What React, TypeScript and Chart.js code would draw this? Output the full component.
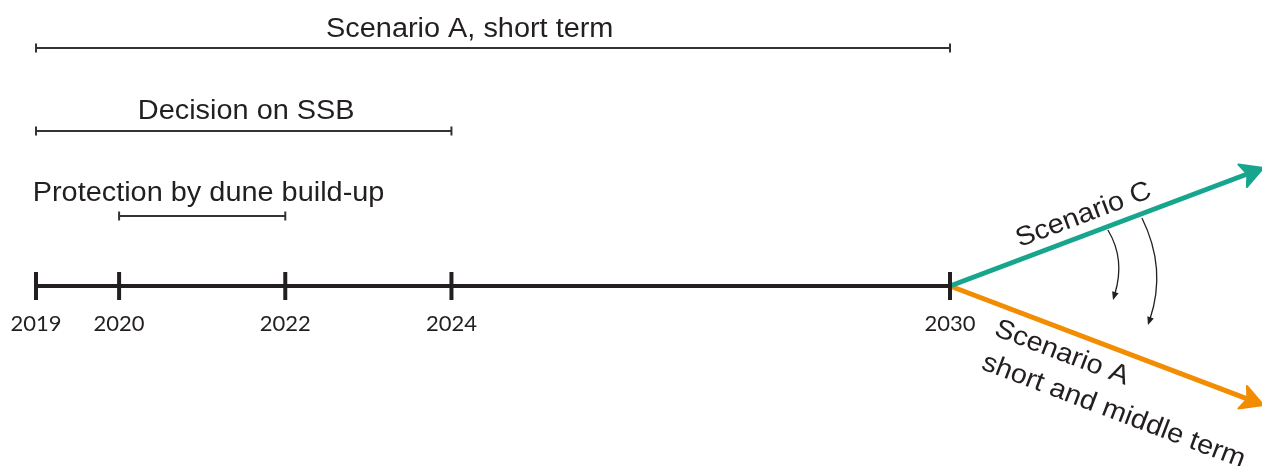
import { useEffect, useRef } from "react";
import { Chart, registerables } from "chart.js";

Chart.register(...registerables);

// ---------- data ----------
const timelineStart = 2019;
const timelineEnd = 2030;
const milestoneYears = [2019, 2020, 2022, 2024, 2030];
const tickLabels = ["2019", "2020", "2022", "2024", "2030"];

const spanNames = ["Scenario A, short term", "Decision on SSB", "Protection by dune build-up"];
const spanStarts = [2019, 2019, 2020];
const spanEnds = [2030, 2024, 2022];
const spanLevels = [238, 155, 70];
const spanLabelYears = [2024.22, 2021.53, 2018.96];
const spanLabelLevels = [249, 167, 85];
const spanLabelAlign = ["center", "center", "left"];

const scenarioNames = ["Scenario C", "Scenario A"];
const scenarioStartYear = 2030;
const scenarioEndYear = 2033.77;
const scenarioEndLevels = [118, -119];
const scenarioLabelLines = [["Scenario C"], ["Scenario A", "short and middle term"]];
const scenarioLabelYears = [2031.64, 2030.518];
const scenarioLabelLevels = [64, -49];
const scenarioLabelAlign = ["center", "left"];

// curved "shift" arrows: start, control, end (year, level)
const shiftStartYears = [2031.9, 2032.31];
const shiftStartLevels = [56, 68];
const shiftCtrlYears = [2032.112, 2032.611];
const shiftCtrlLevels = [27, 17.5];
const shiftEndYears = [2031.962, 2032.383];
const shiftEndLevels = [-14, -39];

// ---------- styles ----------
const DARK = "#231f20";
const TEAL = "#17a58e";
const ORANGE = "#f28c00";
const scenarioColors = [TEAL, ORANGE];
const LABEL_FONT = '27px "Liberation Sans", Arial, sans-serif';
const LABEL_STRETCH = 1.07;
const TICK_FONT = '22px Lato, "Open Sans", sans-serif';

const X_MIN = 2019 - 36 / (914 / 11);
const X_MAX = X_MIN + 1262 / (914 / 11);

function drawLabel(
  ctx: CanvasRenderingContext2D,
  text: string,
  x: number,
  y: number,
  align: CanvasTextAlign
) {
  ctx.save();
  ctx.translate(x, y);
  ctx.scale(LABEL_STRETCH, 1);
  ctx.textAlign = align;
  ctx.fillText(text, 0, 0);
  ctx.restore();
}

const overlayPlugin = {
  id: "timelineOverlay",
  afterDatasetsDraw(chart: any) {
    const ctx: CanvasRenderingContext2D = chart.ctx;
    const xs = chart.scales.x;
    const ys = chart.scales.y;
    const px = (v: number) => xs.getPixelForValue(v);
    const py = (v: number) => ys.getPixelForValue(v);
    ctx.save();

    // milestone ticks
    ctx.strokeStyle = DARK;
    ctx.lineWidth = 4;
    ctx.lineCap = "butt";
    const y0 = py(0);
    milestoneYears.forEach((yr) => {
      const x = px(yr);
      ctx.beginPath();
      ctx.moveTo(x, y0 - 14);
      ctx.lineTo(x, y0 + 14);
      ctx.stroke();
    });

    // tick labels
    ctx.fillStyle = DARK;
    ctx.font = TICK_FONT;
    ctx.textAlign = "center";
    ctx.textBaseline = "alphabetic";
    milestoneYears.forEach((yr, i) => {
      ctx.fillText(tickLabels[i], px(yr), y0 + 45);
    });

    // span end caps
    ctx.lineWidth = 2;
    ctx.strokeStyle = "#333";
    spanNames.forEach((_, i) => {
      const yy = py(spanLevels[i]);
      [spanStarts[i], spanEnds[i]].forEach((yr) => {
        const x = px(yr);
        ctx.beginPath();
        ctx.moveTo(x, yy - 4.5);
        ctx.lineTo(x, yy + 4.5);
        ctx.stroke();
      });
    });

    // span labels
    ctx.font = LABEL_FONT;
    ctx.fillStyle = DARK;
    spanNames.forEach((name, i) => {
      drawLabel(ctx, name, px(spanLabelYears[i]), py(spanLabelLevels[i]), spanLabelAlign[i] as CanvasTextAlign);
    });

    // scenario arrowheads + labels
    scenarioNames.forEach((_, i) => {
      const sx = px(scenarioStartYear);
      const sy = py(0);
      const ex = px(scenarioEndYear);
      const ey = py(scenarioEndLevels[i]);
      const a = Math.atan2(ey - sy, ex - sx);
      const c = Math.cos(a);
      const s = Math.sin(a);
      const L = 22;
      const W = 12;
      const N = 5;
      // solid, slightly notched head
      ctx.fillStyle = scenarioColors[i];
      ctx.strokeStyle = scenarioColors[i];
      ctx.lineWidth = 2;
      ctx.lineJoin = "round";
      ctx.beginPath();
      ctx.moveTo(ex, ey);
      ctx.lineTo(ex - L * c - W * s, ey - L * s + W * c);
      ctx.lineTo(ex - (L - N) * c, ey - (L - N) * s);
      ctx.lineTo(ex - L * c + W * s, ey - L * s - W * c);
      ctx.closePath();
      ctx.fill();
      ctx.stroke();

      ctx.save();
      ctx.translate(px(scenarioLabelYears[i]), py(scenarioLabelLevels[i]));
      ctx.rotate(a);
      ctx.fillStyle = DARK;
      ctx.font = LABEL_FONT;
      scenarioLabelLines[i].forEach((line, k) => {
        drawLabel(ctx, line, 0, k * 36, scenarioLabelAlign[i] as CanvasTextAlign);
      });
      ctx.restore();
    });

    // curved shift arrows
    ctx.strokeStyle = DARK;
    ctx.fillStyle = DARK;
    ctx.lineWidth = 1.3;
    shiftStartYears.forEach((_, i) => {
      const x0 = px(shiftStartYears[i]);
      const yA = py(shiftStartLevels[i]);
      const cx = px(shiftCtrlYears[i]);
      const cy = py(shiftCtrlLevels[i]);
      const x1 = px(shiftEndYears[i]);
      const y1 = py(shiftEndLevels[i]);
      const a = Math.atan2(y1 - cy, x1 - cx);
      const hl = 8;
      const bx = x1 - hl * Math.cos(a);
      const by = y1 - hl * Math.sin(a);
      ctx.beginPath();
      ctx.moveTo(x0, yA);
      ctx.quadraticCurveTo(cx, cy, bx + 2 * Math.cos(a), by + 2 * Math.sin(a));
      ctx.stroke();
      const w = 3.4;
      ctx.beginPath();
      ctx.moveTo(x1, y1);
      ctx.lineTo(bx - w * Math.sin(a), by + w * Math.cos(a));
      ctx.lineTo(bx + w * Math.sin(a), by - w * Math.cos(a));
      ctx.closePath();
      ctx.fill();
    });

    ctx.restore();
  },
};

export default function App() {
  const canvasRef = useRef<HTMLCanvasElement | null>(null);

  useEffect(() => {
    document.body.style.margin = "0";
    const canvas = canvasRef.current;
    if (!canvas) return;

    const datasets: any[] = [];
    datasets.push({
      data: [
        { x: timelineStart, y: 0 },
        { x: timelineEnd, y: 0 },
      ],
      borderColor: DARK,
      borderWidth: 4,
    });
    spanNames.forEach((_, i) => {
      datasets.push({
        data: [
          { x: spanStarts[i], y: spanLevels[i] },
          { x: spanEnds[i], y: spanLevels[i] },
        ],
        borderColor: "#333",
        borderWidth: 2,
      });
    });
    // scenario lines run up to the base of the arrowhead
    scenarioNames.forEach((_, i) => {
      const back = 0.2; // years before the tip
      const frac = (scenarioEndYear - back - scenarioStartYear) / (scenarioEndYear - scenarioStartYear);
      datasets.push({
        data: [
          { x: scenarioStartYear, y: 0 },
          { x: scenarioEndYear - back, y: scenarioEndLevels[i] * frac },
        ],
        borderColor: scenarioColors[i],
        borderWidth: 5,
      });
    });
    datasets.forEach((d) => {
      d.showLine = true;
      d.pointRadius = 0;
      d.borderCapStyle = "butt";
      d.fill = false;
    });

    const chart = new Chart(canvas, {
      type: "scatter",
      data: { datasets },
      options: {
        animation: false,
        responsive: false,
        maintainAspectRatio: false,
        devicePixelRatio: 1,
        layout: { padding: 0 },
        plugins: {
          legend: { display: false },
          tooltip: { enabled: false },
          title: { display: false },
        },
        scales: {
          x: { type: "linear", min: X_MIN, max: X_MAX, display: false },
          y: { type: "linear", min: -180, max: 286, display: false },
        },
      },
      plugins: [overlayPlugin],
    });
    return () => chart.destroy();
  }, []);

  return (
    <div style={{ width: 1262, height: 466, background: "#fff" }}>
      <canvas ref={canvasRef} width={1262} height={466} style={{ display: "block" }} />
    </div>
  );
}
